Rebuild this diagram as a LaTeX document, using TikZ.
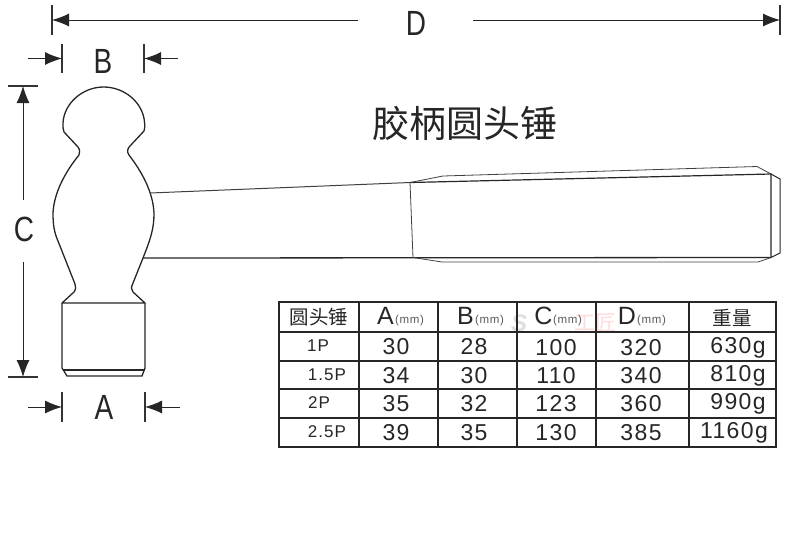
\documentclass[tikz,border=0pt]{standalone}
\usepackage{fontspec}
\setmainfont{Liberation Sans}
\newfontfamily\cjk{Noto Sans CJK SC}
\newfontfamily\tabfont[LetterSpace=6]{Liberation Sans}
\usetikzlibrary{arrows.meta}
\tikzset{
  px/.style={x=1pt,y=-1pt},
  dimline/.style={line width=1pt,draw=black!85,-{Latex[length=17pt,width=13pt]}},
  dimtick/.style={line width=1.1pt,draw=black!80},
  part/.style={line width=1.3pt,draw=black!85},
  thinpart/.style={line width=.8pt,draw=black!75},
  dimlabel/.style={font=\fontsize{35}{35}\selectfont,xscale=.8,inner sep=0pt,text=black!85},
  cell/.style={inner sep=0pt,text=black!85,anchor=center},
  big/.style={cell,font=\tabfont\fontsize{23}{23}\selectfont},
  small/.style={cell,font=\tabfont\fontsize{17}{17}\selectfont},
  cjkhead/.style={cell,font=\cjk\fontsize{19.5}{19.5}\selectfont},
  lettr/.style={cell,font=\fontsize{25}{25}\selectfont},
  unit/.style={inner sep=0pt,text=black!65,font=\tabfont\fontsize{11.5}{11.5}\selectfont},
  grid/.style={line width=1.1pt,draw=black!85},
}
\begin{document}
\begin{tikzpicture}[px]
\useasboundingbox (0,0) rectangle (789,542);

% Hammer head
\draw[part,line join=round]
  (62,303) -- (74,292) .. controls (76,289) and (76,287) .. (75,284)
  -- (58,241) .. controls (54,232) and (53,224) .. (53,213)
  .. controls (54,192) and (66,171) .. (79,155)
  .. controls (80,152) and (80,150) .. (78,147)
  -- (64,132) .. controls (63,130) and (63,127) .. (63,123)
  .. controls (64,103) and (83,87) .. (103.5,87)
  .. controls (125,87) and (143,103) .. (144.5,122)
  .. controls (145,126) and (145,129) .. (144,131)
  -- (130,146) .. controls (127,149) and (127,152) .. (129,155)
  .. controls (142,172) and (153,192) .. (154,213)
  .. controls (154,228) and (151,238) .. (143,258)
  -- (133,283) .. controls (131,287) and (131,290) .. (133,292)
  -- (145,303) -- cycle;
\draw[part] (62,303) -- (62,368) -- (67,376) -- (142,376) -- (145,368) -- (145,303);
\draw[part] (63,370) -- (145,370);

% Handle
\coordinate (handleTopL) at (150,193);
\coordinate (handleBotL) at (143,258);
\coordinate (gripTopL) at (410,182.5);
\coordinate (gripBotL) at (413,257.5);
\coordinate (gripTopR) at (771,174);
\coordinate (gripBotR) at (771,257.5);
\draw[thinpart,line width=1pt] (handleTopL) -- (gripTopL);
\draw[part] (handleBotL) -- (gripBotR);
\draw[part,line width=1.2pt] (gripTopL) -- (gripTopR) -- (gripBotR);
\draw[thinpart] (gripTopL) -- (gripBotL);
\draw[thinpart] (gripTopL) -- (443,176) -- (757,166.5) -- (gripTopR);
\draw[thinpart] (gripBotL) -- (442,262) -- (758,262) -- (gripBotR);
\draw[part,line width=1pt] (gripTopR) -- (780,179) -- (780,253) -- (gripBotR);

% Dimension D
\coordinate (dTickL) at (52,20);
\coordinate (dTickR) at (780,20);
\node[dimlabel] (labelD) at (416,23) {D};
\draw[dimtick] (52,5) -- (52,35);
\draw[dimtick] (780,5) -- (780,35);
\draw[dimline] (358,20) -- (dTickL);
\draw[dimline] (473,20) -- (dTickR);

% Dimension B
\coordinate (bTickL) at (62,58.5);
\coordinate (bTickR) at (144,58.5);
\node[dimlabel] (labelB) at (103,61.5) {B};
\draw[dimtick] (62,44) -- (62,73);
\draw[dimtick] (144,44) -- (144,73);
\draw[dimline] (28,58.5) -- (bTickL);
\draw[dimline] (178,58.5) -- (bTickR);

% Dimension C
\coordinate (cTickT) at (23,86);
\coordinate (cTickB) at (23,377);
\node[dimlabel] (labelC) at (24,229) {C};
\draw[dimtick] (8,86) -- (38,86);
\draw[dimtick] (8,377) -- (38,377);
\draw[dimline] (23,200) -- (cTickT);
\draw[dimline] (23,262) -- (cTickB);

% Dimension A
\coordinate (aTickL) at (62,407);
\coordinate (aTickR) at (145,407);
\node[dimlabel] (labelA) at (104,407.5) {A};
\draw[dimtick] (62,392) -- (62,422);
\draw[dimtick] (145,392) -- (145,422);
\draw[dimline] (28,407) -- (aTickL);
\draw[dimline] (180,407) -- (aTickR);

% Title
\node[inner sep=0pt,font=\cjk\fontsize{37}{37}\selectfont,text=black!85] (title) at (465,123) {胶柄圆头锤};

% Watermark
\node[inner sep=0pt,font=\bfseries\itshape\fontsize{24}{24}\selectfont,text=black!13] (wmS) at (519,323) {S};
\node[inner sep=0pt,font=\cjk\fontsize{21}{21}\selectfont,text=red!14] (wmT) at (595,323) {工匠};

% Table
\draw[grid] (279,302) rectangle (776,447);
\foreach \y in {332,361,389,418} \draw[grid] (279,\y) -- (776,\y);
\foreach \x in {359,438,517,596,689} \draw[grid] (\x,302) -- (\x,447);

\node[cjkhead] (h0) at (319,317) {圆头锤};
\node[lettr] (h1) at (385.5,316) {A};
\node[unit] (u1) at (409.5,321) {(mm)};
\node[lettr] (h2) at (465.5,316) {B};
\node[unit] (u2) at (489.5,321) {(mm)};
\node[lettr] (h3) at (543.5,316) {C};
\node[unit] (u3) at (567.5,321) {(mm)};
\node[lettr] (h4) at (627,316) {D};
\node[unit] (u4) at (651.5,321) {(mm)};
\node[cjkhead] (h5) at (732,318) {重量};

\node[small] at (318,346) {1P};
\node[big] at (396,347) {30};
\node[big] at (474,347) {28};
\node[big] at (556,347.5) {100};
\node[big] at (641,347.5) {320};
\node[big] at (738,347.5) {630g};

\node[small] at (327,375) {1.5P};
\node[big] at (396,375.5) {34};
\node[big] at (474,375.5) {30};
\node[big] at (556,375.5) {110};
\node[big] at (641,375.5) {340};
\node[big] at (738,375.5) {810g};

\node[small] at (319,403) {2P};
\node[big] at (396,403.5) {35};
\node[big] at (474,403.5) {32};
\node[big] at (556,403.5) {123};
\node[big] at (641,403.5) {360};
\node[big] at (738,403.5) {990g};

\node[small] at (327,432) {2.5P};
\node[big] at (396,432.5) {39};
\node[big] at (474,432.5) {35};
\node[big] at (556,432.5) {130};
\node[big] at (641,432.5) {385};
\node[big] at (734,432.5) {1160g};
\end{tikzpicture}
\end{document}
